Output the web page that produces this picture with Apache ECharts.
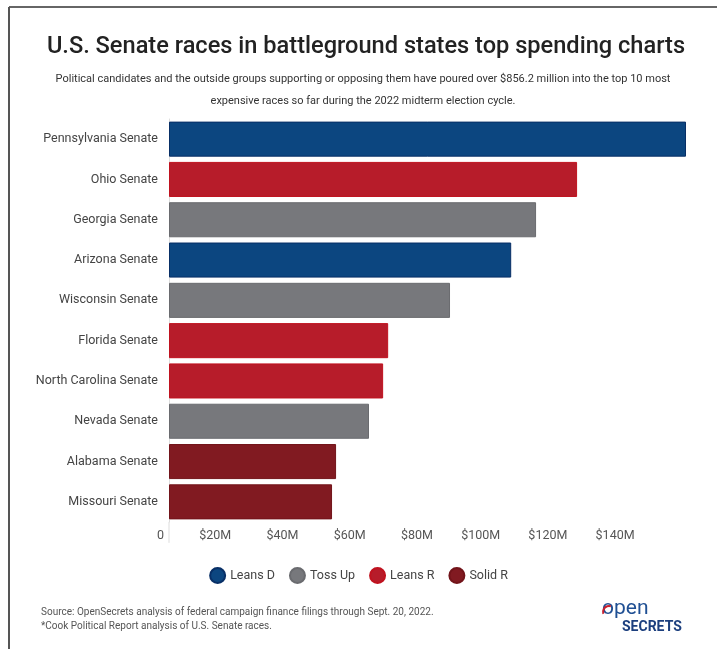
<!DOCTYPE html>
<html>
<head>
<meta charset="utf-8">
<script src="https://cdn.jsdelivr.net/npm/echarts@6/dist/echarts.min.js"></script>
<style>
  html, body { margin: 0; padding: 0; background: #fff; }
  #chart { width: 717px; height: 649px; }
</style>
</head>
<body>
<div id="chart"></div>
<script>
// Top 10 most expensive 2022 Senate races (total spending, $ millions)
var races = [
  'Pennsylvania Senate', 'Ohio Senate', 'Georgia Senate', 'Arizona Senate',
  'Wisconsin Senate', 'Florida Senate', 'North Carolina Senate', 'Nevada Senate',
  'Alabama Senate', 'Missouri Senate'
];
var spending = [153.8, 121.4, 109.2, 101.8, 83.6, 65.2, 63.7, 59.5, 49.7, 48.5];
// Cook Political Report rating for each race
var ratings = [
  'Leans D', 'Leans R', 'Toss Up', 'Leans D', 'Toss Up',
  'Leans R', 'Leans R', 'Toss Up', 'Solid R', 'Solid R'
];
var ratingOrder = ['Leans D', 'Toss Up', 'Leans R', 'Solid R'];
var ratingColors = ['#0c4680', '#77787c', '#b71c2a', '#811a21'];
var ratingBorders = ['#082f66', '#6a6b6f', '#c0121f', '#72141a'];
var xTicks = [0, 20, 40, 60, 80, 100, 120, 140];

var FONT = 'Roboto, "Noto Sans", sans-serif';

// one stacked series per rating, so each race lands in its own band
var series = ratingOrder.map(function (r, i) {
  return {
    name: r,
    type: 'bar',
    stack: 'total',
    barCategoryGap: '13%',
    itemStyle: { color: ratingColors[i], borderColor: ratingBorders[i], borderWidth: 1 },
    data: spending.map(function (v, k) { return ratings[k] === r ? v : '-'; })
  };
});

var chart = echarts.init(document.getElementById('chart'), null, { renderer: 'canvas' });

chart.setOption({
  backgroundColor: '#ffffff',
  animation: false,
  title: [
    {
      text: 'U.S. Senate races in battleground states top spending charts',
      left: 361, top: 30, textAlign: 'center',
      textStyle: { fontFamily: FONT, fontSize: 23.6, fontWeight: 500, color: '#222222' }
    },
    {
      text: 'Political candidates and the outside groups supporting or opposing them have poured over $856.2 million into the top 10 most\nexpensive races so far during the 2022 midterm election cycle.',
      left: 358, top: 63, textAlign: 'center',
      textStyle: { fontFamily: FONT, fontSize: 11, fontWeight: 'normal', color: '#333333', lineHeight: 22, align: 'center' }
    },
    {
      text: 'Source: OpenSecrets analysis of federal campaign finance filings through Sept. 20, 2022.\n*Cook Political Report analysis of U.S. Senate races.',
      left: 36, top: 600,
      textStyle: { fontFamily: FONT, fontSize: 10, fontWeight: 'normal', color: '#555555', lineHeight: 14 }
    }
  ],
  legend: {
    data: ratingOrder,
    left: 'center',
    top: 562,
    icon: 'circle',
    itemWidth: 15,
    itemHeight: 15,
    itemGap: 14,
    textStyle: { fontFamily: FONT, fontSize: 12.5, color: '#444444' }
  },
  grid: { left: 169, right: 31, top: 119, bottom: 127 },
  xAxis: {
    type: 'value',
    min: 0,
    max: spending[0],
    interval: 20,
    axisLine: { show: false },
    axisTick: { show: false },
    splitLine: { show: false },
    axisLabel: {
      showMaxLabel: false,
      align: 'right',
      margin: 7,
      padding: [0, 5, 0, 0],
      fontFamily: FONT, fontSize: 12.5, color: '#555555',
      formatter: function (v) {
        if (xTicks.indexOf(v) < 0) return '';
        return v === 0 ? '0' : '$' + v + 'M';
      }
    }
  },
  yAxis: {
    type: 'category',
    inverse: true,
    data: races,
    axisLine: { show: true, lineStyle: { color: '#dddddd', width: 1 } },
    axisTick: { show: false },
    axisLabel: { margin: 11, fontFamily: FONT, fontSize: 12.5, color: '#444444' }
  },
  series: series,
  graphic: [
    // frame edges
    { id: 'frameTop', type: 'line', shape: { x1: 9, y1: 7, x2: 717, y2: 7 }, style: { stroke: '#666666', lineWidth: 2 } },
    { id: 'frameLeft', type: 'line', shape: { x1: 9, y1: 7, x2: 9, y2: 649 }, style: { stroke: '#555555', lineWidth: 2 } },
    // OpenSecrets wordmark
    { id: 'logoOpen', type: 'text', left: 602, top: 598, style: { text: 'open', font: '400 21px ' + FONT, fill: '#1f4f93' } },
    { id: 'logoArc', type: 'arc', shape: { cx: 609, cy: 612, r: 6, startAngle: Math.PI * 0.9, endAngle: Math.PI * 1.6 }, style: { stroke: '#c8202f', lineWidth: 2, fill: null } },
    { id: 'logoSecrets', type: 'text', left: 622, top: 620, style: { text: 'SECRETS', font: 'bold 14px ' + FONT, fill: '#1c3f7e' } }
  ]
});

// extend the zero baseline a little below the last band
var p0 = chart.convertToPixel({ xAxisIndex: 0, yAxisIndex: 0 }, [0, races[races.length - 1]]);
var bandHalf = 20;
chart.setOption({
  graphic: [
    { id: 'baseExt', type: 'line', z: 0, shape: { x1: p0[0], y1: p0[1] + bandHalf, x2: p0[0], y2: p0[1] + bandHalf + 21 }, style: { stroke: '#dddddd', lineWidth: 1 } }
  ]
});
</script>
</body>
</html>
